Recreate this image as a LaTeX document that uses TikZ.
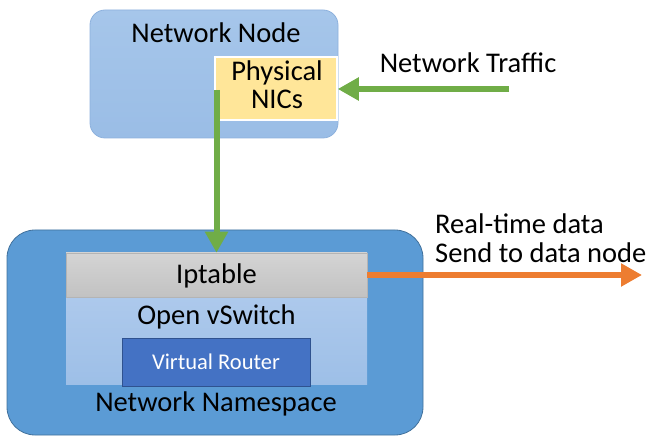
\documentclass[tikz,border=0pt]{standalone}
\usepackage{fontspec}
\setmainfont{Carlito}
\usetikzlibrary{arrows.meta,shadings}

\definecolor{nodeblueT}{HTML}{A6C6EA}
\definecolor{nodeblueB}{HTML}{9ABDE6}
\definecolor{nodeedge}{HTML}{8DB1DD}
\definecolor{nicfill}{HTML}{FFE699}
\definecolor{nsfill}{HTML}{5B9BD5}
\definecolor{nsedge}{HTML}{41719C}
\definecolor{iptT}{HTML}{D4D4D4}
\definecolor{iptB}{HTML}{C2C2C2}
\definecolor{iptedge}{HTML}{B4B4B4}
\definecolor{ovsT}{HTML}{ADC9EC}
\definecolor{ovsB}{HTML}{9DBFE7}
\definecolor{vrfill}{HTML}{4472C4}
\definecolor{vredge}{HTML}{2F528F}
\definecolor{flowgreen}{HTML}{70AD47}
\definecolor{floworange}{HTML}{ED7D31}

\tikzset{
  bigtext/.style={font=\fontsize{28.5}{26}\selectfont, inner sep=0pt, text=black},
  hostbox/.style={rectangle, rounded corners=15pt, draw=nodeedge, line width=0.8pt,
                  top color=nodeblueT, bottom color=nodeblueB},
  nicbox/.style={rectangle, fill=nicfill, draw=white, line width=1.5pt},
  nsbox/.style={rectangle, rounded corners=28pt, fill=nsfill, draw=nsedge, line width=0.8pt},
  iptbox/.style={rectangle, top color=iptT, bottom color=iptB, draw=iptedge, line width=0.6pt},
  ovsbox/.style={rectangle, top color=ovsT, bottom color=ovsB},
  vrbox/.style={rectangle, fill=vrfill, draw=vredge, line width=0.8pt,
                text=white, font=\fontsize{22.5}{22}\selectfont},
  flow/.style={line width=6pt, -{Triangle[length=21pt,width=22pt]}},
}

\begin{document}
\begin{tikzpicture}[x=1pt,y=-1pt]
  \useasboundingbox (0,0) rectangle (651,438);

  % host with its physical interfaces
  \node[hostbox, minimum width=248pt, minimum height=128pt] (host) at (214,74) {};
  \node[bigtext] (hosttitle) at (216,33) {Network Node};
  \node[nicbox, minimum width=122pt, minimum height=63pt] (nics) at (276,88.5) {};
  \node[bigtext] (nicsline1) at (277,73) {Physical};
  \node[bigtext] (nicsline2) at (277,99) {NICs};

  % namespace with its stacked components
  \node[nsbox, minimum width=416pt, minimum height=205pt] (ns) at (215,332.5) {};
  \node[ovsbox, minimum width=301pt, minimum height=88pt] (ovs) at (216.5,341) {};
  \node[iptbox, minimum width=301pt, minimum height=44pt] (ipt) at (216.5,275) {};
  \node[bigtext] (ipttext) at (216.5,276) {Iptable};
  \node[bigtext] (ovstext) at (216.5,317) {Open vSwitch};
  \node[vrbox, minimum width=188pt, minimum height=48pt] (vr) at (216,362) {Virtual Router};
  \node[bigtext] (nstext) at (216,404) {Network Namespace};

  % free labels
  \node[bigtext] (traffic) at (468,63) {Network Traffic};
  \node[bigtext, align=left, anchor=west, font=\fontsize{28.5}{29}\selectfont] (realtime) at (435,238) {Real-time data\\Send to data node};

  % flows
  \coordinate (trafficsrc) at (509,89);
  \coordinate (nicsout) at (216.5,90);
  \coordinate (datasink) at (642,275);
  \draw[flow, draw=flowgreen, fill=flowgreen] (trafficsrc) -- (nics.east |- trafficsrc);
  \draw[flow, draw=flowgreen, fill=flowgreen] (nicsout) -- (nicsout |- ipt.north);
  \draw[flow, draw=floworange, fill=floworange] (ipt.east) -- (datasink);
\end{tikzpicture}
\end{document}
